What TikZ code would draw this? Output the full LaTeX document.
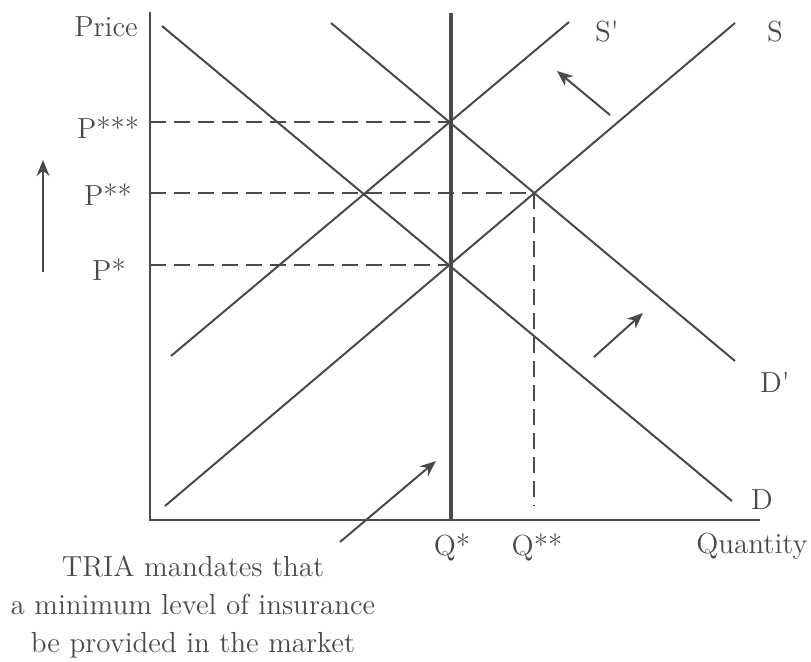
\documentclass[tikz,border=0pt]{standalone}
\usetikzlibrary{arrows.meta}
\definecolor{ink}{HTML}{4A4A4A}
\begin{document}
\begin{tikzpicture}[x=0.5pt,y=-0.5pt,
  curve/.style={draw=ink,line width=1pt},
  axis/.style={draw=ink,line width=1.1pt},
  dashline/.style={draw=ink,line width=0.9pt,dash pattern=on 8pt off 4pt},
  shift arrow/.style={draw=ink,line width=1pt,-{Stealth[length=8pt,width=6.5pt]}},
  lbl/.style={text=ink,font=\fontsize{14.5}{19}\selectfont,inner sep=0pt}]
\useasboundingbox (0,0) rectangle (811,662);
% axes
\coordinate (O) at (150,520);
\coordinate (Ytop) at (150,12);
\coordinate (Xend) at (760,520);
\draw[axis] (Ytop) -- (O) -- (Xend);
% curves
\coordinate (D1) at (162,26);  \coordinate (D2) at (732,501);
\coordinate (Dp1) at (331,23); \coordinate (Dp2) at (735,361);
\coordinate (S1) at (165,506); \coordinate (S2) at (735,23);
\coordinate (Sp1) at (171,356);\coordinate (Sp2) at (569,22);
\draw[curve] (D1) -- (D2);
\draw[curve] (Dp1) -- (Dp2);
\draw[curve] (S1) -- (S2);
\draw[curve] (Sp1) -- (Sp2);
% equilibria
\coordinate (E1) at (intersection of D1--D2 and S1--S2);
\coordinate (E2) at (intersection of Dp1--Dp2 and S1--S2);
\coordinate (E3) at (intersection of Dp1--Dp2 and Sp1--Sp2);
% Q* vertical
\coordinate (Qtop) at (451,13);
\draw[draw=ink,line width=1.6pt] (Qtop) -- (Qtop |- O);
% dashed guides
\draw[dashline] (O |- E3) -- (E3);
\draw[dashline] (O |- E2) -- (E2);
\draw[dashline] (O |- E1) -- (E1);
\draw[dashline,shorten >=7pt] (E2) -- (E2 |- O);
% labels
\node[lbl] (price) at (106,27) {Price};
\node[lbl] (p3) at (108,128) {P***};
\node[lbl] (p2) at (108,195) {P**};
\node[lbl] (p1) at (109,270) {P*};
\node[lbl] (sp) at (607,32) {S\textquotesingle};
\node[lbl] (s) at (775,32) {S};
\node[lbl] (dp) at (775,382) {D\textquotesingle};
\node[lbl] (d) at (762,500) {D};
\node[lbl] (q1) at (452,547) {Q*};
\node[lbl] (q2) at (537,547) {Q**};
\node[lbl] (qty) at (752,546) {Quantity};
\node[lbl,align=center] (tria) at (193,607) {TRIA mandates that\\a minimum level of insurance\\be provided in the market};
% shift arrows
\coordinate (ua1) at (43,272); \coordinate (ua2) at (43,160);
\draw[shift arrow] (ua1) -- (ua2);
\coordinate (sa1) at (610,115); \coordinate (sa2) at (557,71);
\draw[shift arrow] (sa1) -- (sa2);
\coordinate (da1) at (594,357); \coordinate (da2) at (643,313);
\draw[shift arrow] (da1) -- (da2);
\coordinate (ta1) at (340,542); \coordinate (ta2) at (436,461);
\draw[shift arrow] (ta1) -- (ta2);
\end{tikzpicture}
\end{document}
